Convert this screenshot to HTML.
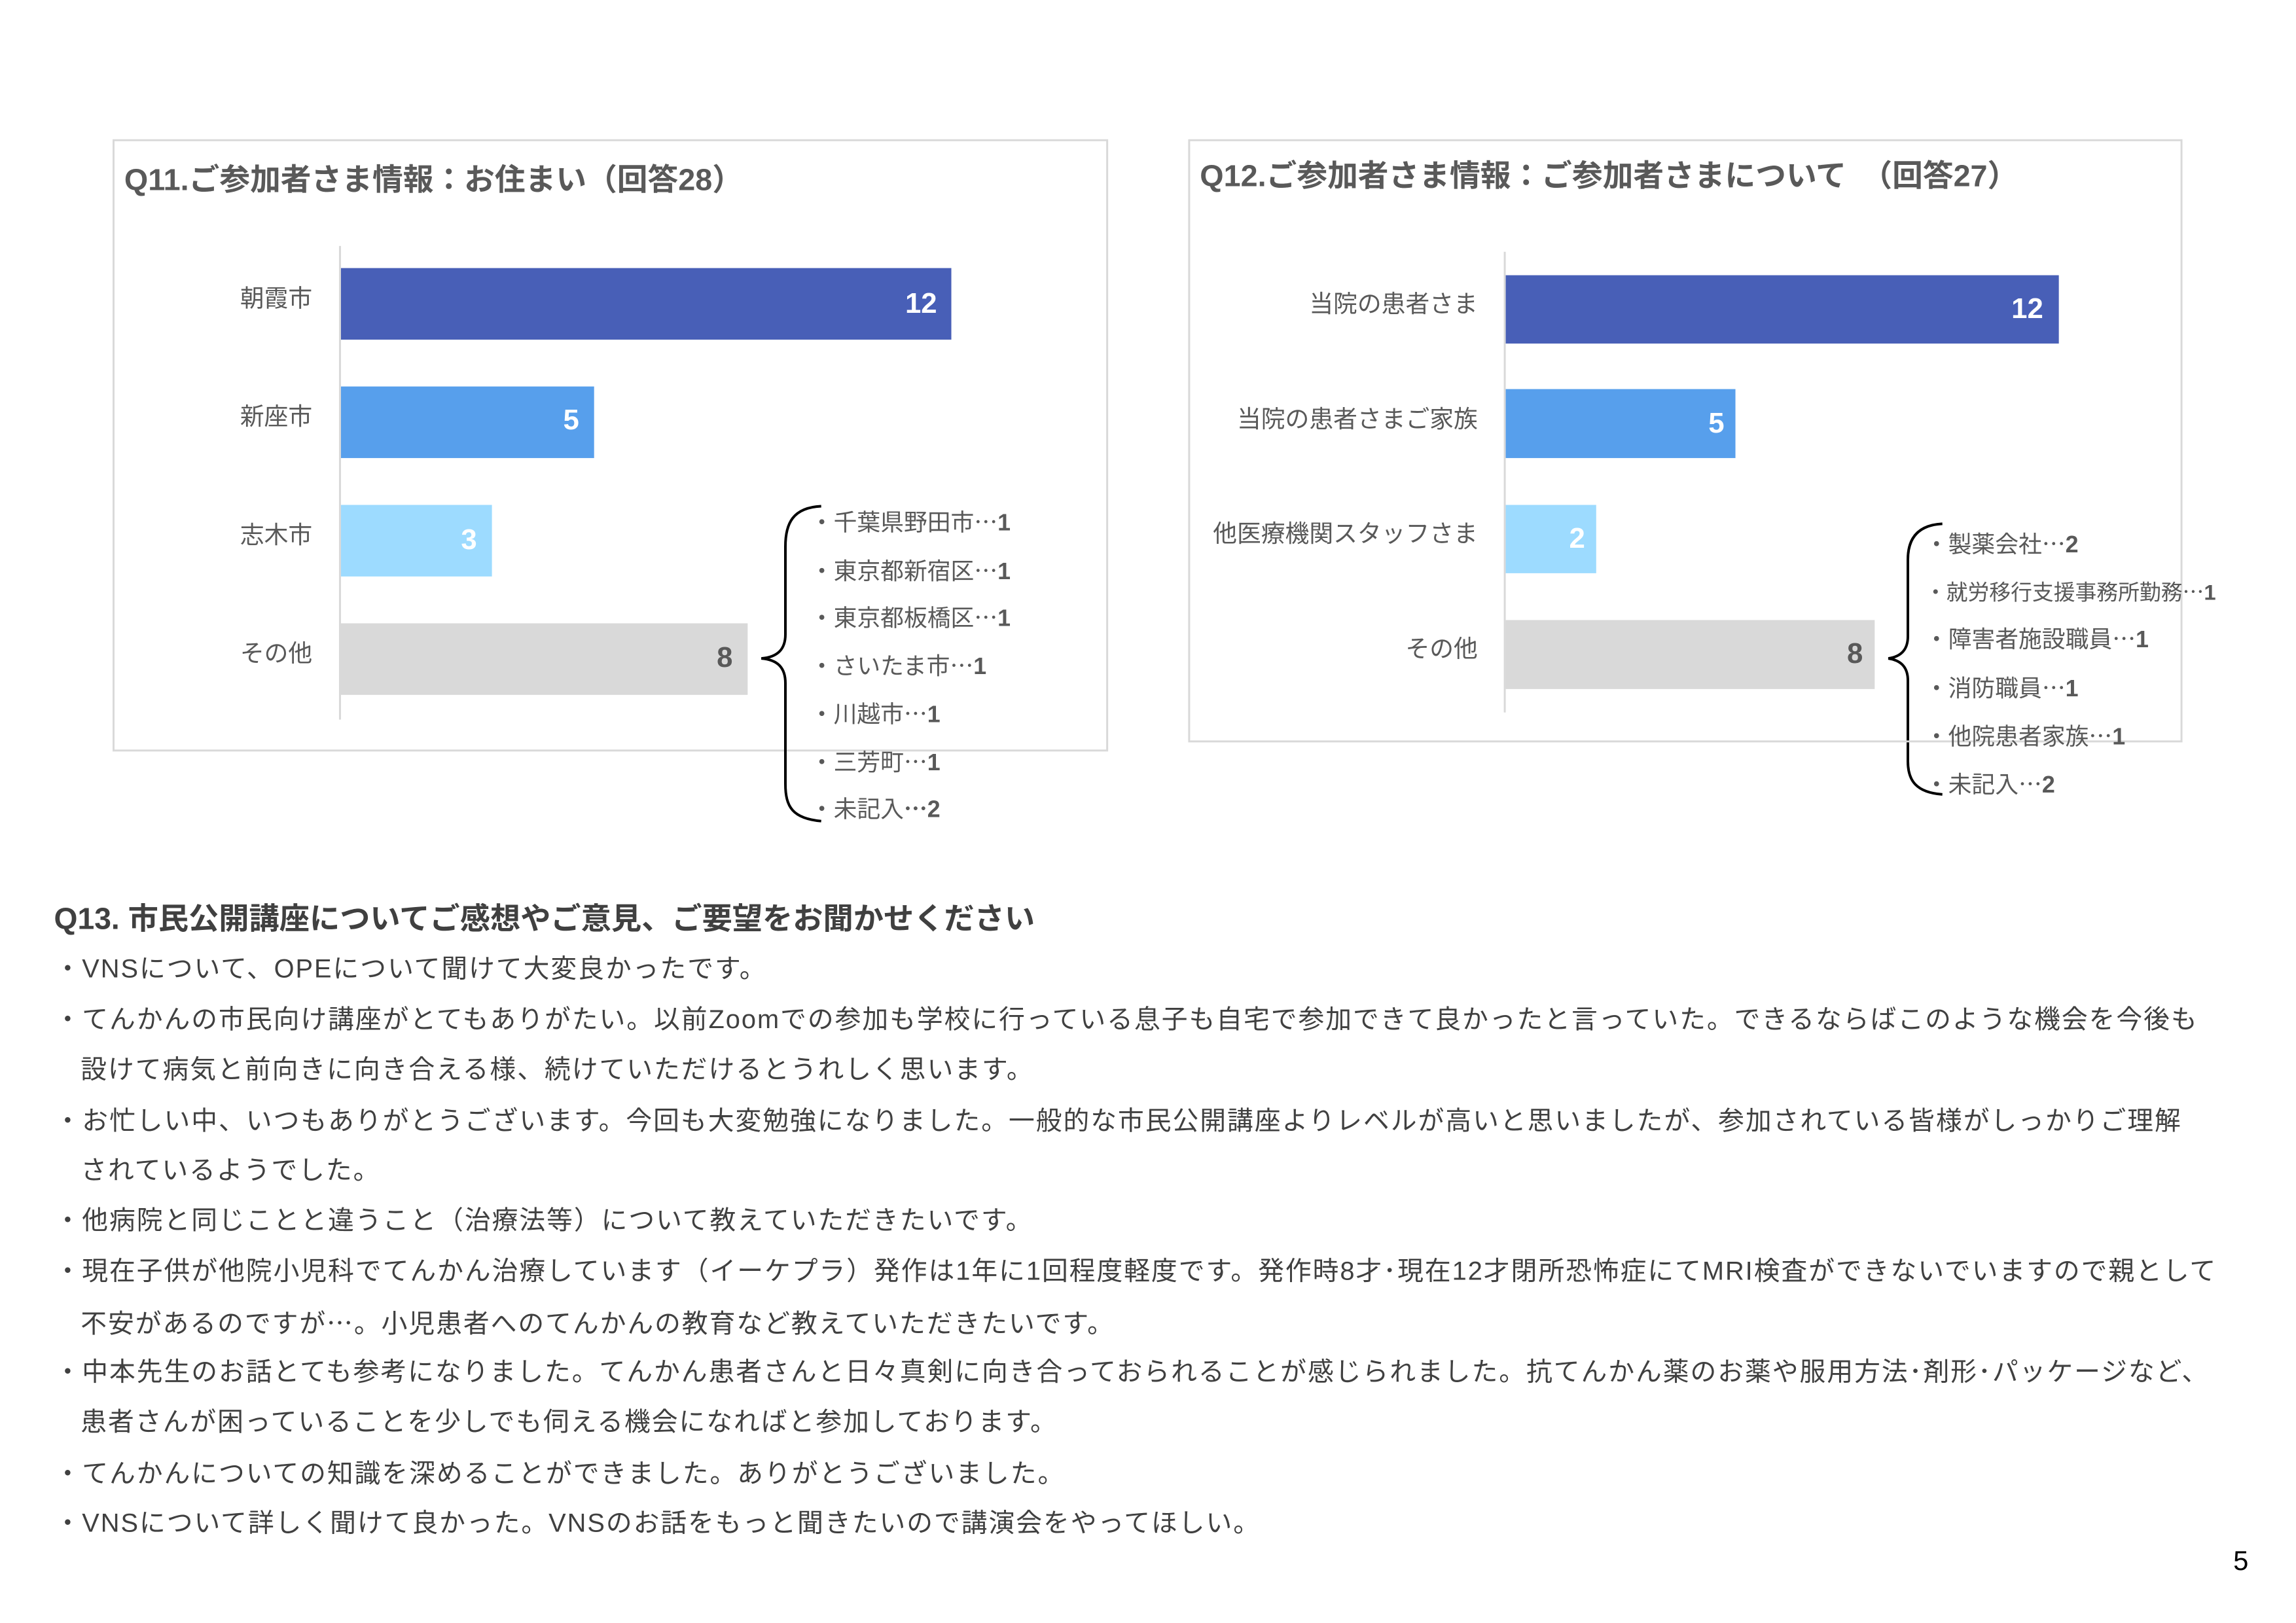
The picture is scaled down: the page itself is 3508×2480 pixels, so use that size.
<!DOCTYPE html>
<html><head><meta charset="utf-8">
<style>
body{margin:0;width:3508px;height:2480px;background:#fff;position:relative;overflow:hidden;font-family:"Liberation Sans","Noto Sans CJK JP",sans-serif;color:#404040}
#w{position:absolute;left:0;top:0;width:3508px;height:2480px;transform:scale(0.9942);transform-origin:0 0}
.a{position:absolute;white-space:nowrap}
.box{position:absolute;border:3px solid #d9d9d9;box-sizing:border-box}
.t{font-weight:bold;font-size:47px;color:#595959;line-height:60px}
.cat{font-size:37px;color:#595959;line-height:50px;text-align:right}
.bar{position:absolute}
.v{position:absolute;font-weight:bold;font-size:44px;line-height:50px;color:#fff;text-align:right}
.li{font-size:36px;color:#595959;line-height:50px}
.li b{font-weight:bold}
.e{font-family:"Noto Sans CJK JP",sans-serif}
.ax{position:absolute;width:3px;background:#d9d9d9}
.tx{font-size:40px;letter-spacing:2px;line-height:60px;color:#404040}
</style></head><body><div id="w">

<!-- Q11 -->
<div class="box" style="left:173px;top:214px;width:1530px;height:941px"></div>
<div class="a t" style="left:191px;top:246px">Q11.ご参加者さま情報：お住まい（回答28）</div>
<div class="ax" style="left:521px;top:378px;height:728px"></div>
<div class="bar" style="left:524px;top:412px;width:938px;height:110px;background:#485fb7"></div>
<div class="bar" style="left:524px;top:594px;width:389px;height:110px;background:#579fec"></div>
<div class="bar" style="left:524px;top:776px;width:232px;height:110px;background:#9ddbff"></div>
<div class="bar" style="left:524px;top:958px;width:625px;height:110px;background:#d9d9d9"></div>
<div class="a cat" style="left:280px;width:200px;top:434px">朝霞市</div>
<div class="a cat" style="left:280px;width:200px;top:616px">新座市</div>
<div class="a cat" style="left:280px;width:200px;top:798px">志木市</div>
<div class="a cat" style="left:280px;width:200px;top:980px">その他</div>
<div class="v" style="left:1300px;width:140px;top:442px">12</div>
<div class="v" style="left:750px;width:140px;top:621px">5</div>
<div class="v" style="left:593px;width:140px;top:805px">3</div>
<div class="v" style="left:986px;width:140px;top:986px;color:#595959">8</div>
<svg class="a" style="left:0;top:0" width="3508" height="2480">
<path d="M1262,778 C1218,780 1207,805 1207,840 L1207,975 C1207,998 1195,1010 1170,1012 C1195,1014 1207,1026 1207,1050 L1207,1205 C1207,1240 1218,1258 1262,1262" fill="none" stroke="#000" stroke-width="4"/>
<path d="M2985,805 C2945,807 2932,830 2932,860 L2932,978 C2932,998 2922,1009 2902,1012 C2922,1015 2932,1026 2932,1046 L2932,1170 C2932,1200 2945,1218 2985,1221" fill="none" stroke="#000" stroke-width="4"/>
</svg>
<div class="a li" style="left:1245px;top:775px">・千葉県野田市<span class="e">…</span><b>1</b></div>
<div class="a li" style="left:1245px;top:850px">・東京都新宿区<span class="e">…</span><b>1</b></div>
<div class="a li" style="left:1245px;top:922px">・東京都板橋区<span class="e">…</span><b>1</b></div>
<div class="a li" style="left:1245px;top:996px">・さいたま市<span class="e">…</span><b>1</b></div>
<div class="a li" style="left:1245px;top:1070px">・川越市<span class="e">…</span><b>1</b></div>
<div class="a li" style="left:1245px;top:1144px">・三芳町<span class="e">…</span><b>1</b></div>
<div class="a li" style="left:1245px;top:1216px">・未記入<b class="e">…</b><b>2</b></div>

<!-- Q12 -->
<div class="box" style="left:1826px;top:214px;width:1528px;height:927px"></div>
<div class="a t" style="left:1844px;top:240px">Q12.ご参加者さま情報：ご参加者さまについて　（回答27）</div>
<div class="ax" style="left:2311px;top:387px;height:708px"></div>
<div class="bar" style="left:2314px;top:423px;width:850px;height:105px;background:#485fb7"></div>
<div class="bar" style="left:2314px;top:598px;width:353px;height:106px;background:#579fec"></div>
<div class="bar" style="left:2314px;top:776px;width:139px;height:105px;background:#9ddbff"></div>
<div class="bar" style="left:2314px;top:953px;width:567px;height:106px;background:#d9d9d9"></div>
<div class="a cat" style="left:1771px;width:500px;top:443px">当院の患者さま</div>
<div class="a cat" style="left:1771px;width:500px;top:620px">当院の患者さまご家族</div>
<div class="a cat" style="left:1771px;width:500px;top:796px">他医療機関スタッフさま</div>
<div class="a cat" style="left:1771px;width:500px;top:973px">その他</div>
<div class="v" style="left:3000px;width:140px;top:450px">12</div>
<div class="v" style="left:2510px;width:140px;top:626px">5</div>
<div class="v" style="left:2296px;width:140px;top:803px">2</div>
<div class="v" style="left:2723px;width:140px;top:980px;color:#595959">8</div>
<div class="a li" style="left:2958px;top:809px">・製薬会社<span class="e">…</span><b>2</b></div>
<div class="a li" style="left:2958px;top:883px;font-size:33px">・就労移行支援事務所勤務<span class="e">…</span><b>1</b></div>
<div class="a li" style="left:2958px;top:955px">・障害者施設職員<span class="e">…</span><b>1</b></div>
<div class="a li" style="left:2958px;top:1030px">・消防職員<span class="e">…</span><b>1</b></div>
<div class="a li" style="left:2958px;top:1104px">・他院患者家族<span class="e">…</span><b>1</b></div>
<div class="a li" style="left:2958px;top:1178px">・未記入<span class="e">…</span><b>2</b></div>

<!-- Q13 -->
<div class="a" style="left:83px;top:1382px;font-size:46.5px;font-weight:bold;line-height:60px;color:#404040">Q13. 市民公開講座についてご感想やご意見、ご要望をお聞かせください</div>
<div class="a tx" style="left:84px;top:1459px">・VNSについて、OPEについて聞けて大変良かったです。</div>
<div class="a tx" style="left:84px;top:1537px">・てんかんの市民向け講座がとてもありがたい。以前Zoomでの参加も学校に行っている息子も自宅で参加できて良かったと言っていた。できるならばこのような機会を今後も</div>
<div class="a tx" style="left:124px;top:1614px">設けて病気と前向きに向き合える様、続けていただけるとうれしく思います。</div>
<div class="a tx" style="left:84px;top:1693px">・お忙しい中、いつもありがとうございます。今回も大変勉強になりました。一般的な市民公開講座よりレベルが高いと思いましたが、参加されている皆様がしっかりご理解</div>
<div class="a tx" style="left:124px;top:1769px">されているようでした。</div>
<div class="a tx" style="left:84px;top:1846px">・他病院と同じことと違うこと（治療法等）について教えていただきたいです。</div>
<div class="a tx" style="left:84px;top:1924px">・現在子供が他院小児科でてんかん治療しています（イーケプラ）発作は1年に1回程度軽度です。発作時8才･現在12才閉所恐怖症にてMRI検査ができないでいますので親として</div>
<div class="a tx" style="left:124px;top:2001px">不安があるのですが<span class="e">…</span>。小児患者へのてんかんの教育など教えていただきたいです。</div>
<div class="a tx" style="left:84px;top:2079px">・中本先生のお話とても参考になりました。てんかん患者さんと日々真剣に向き合っておられることが感じられました。抗てんかん薬のお薬や服用方法･剤形･パッケージなど、</div>
<div class="a tx" style="left:124px;top:2156px">患者さんが困っていることを少しでも伺える機会になればと参加しております。</div>
<div class="a tx" style="left:84px;top:2235px">・てんかんについての知識を深めることができました。ありがとうございました。</div>
<div class="a tx" style="left:84px;top:2311px">・VNSについて詳しく聞けて良かった。VNSのお話をもっと聞きたいので講演会をやってほしい。</div>
<div class="a" style="left:3432px;top:2374px;font-size:42px;line-height:50px;color:#000">5</div>
</div></body></html>
